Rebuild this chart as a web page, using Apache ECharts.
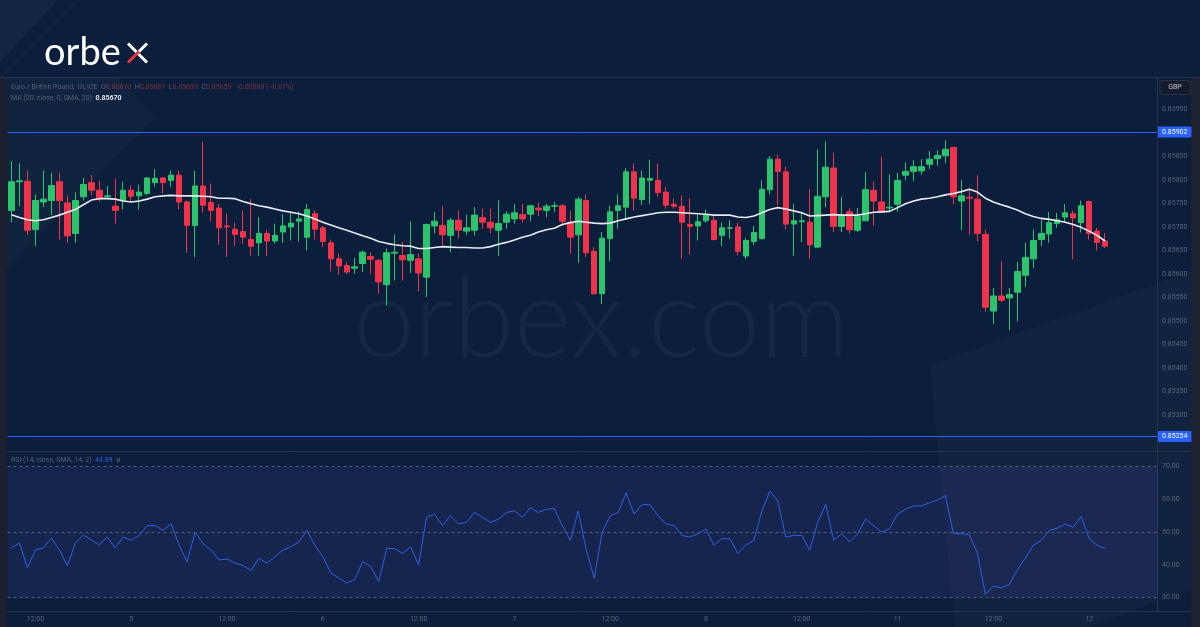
<!DOCTYPE html>
<html><head><meta charset="utf-8">
<script src="https://cdn.jsdelivr.net/npm/echarts@6/dist/echarts.min.js"></script>
<style>html,body{margin:0;padding:0;background:#0b1e3b;}#c{width:1200px;height:627px;}</style>
</head><body><div id="c"></div>
<script>
// ---- categories / ticks ----
const dayLabels = ['4','5','6','7','8','11','12'];
const firstHour = 9;
const slotCount = 144;
const priceTicks = [0.8530,0.8535,0.8540,0.8545,0.8550,0.8555,0.8560,0.8565,0.8570,0.8575,0.8580,0.8585,0.8595];
const rsiTicks = [30,40,50,60,70];
const levels = [0.85902, 0.85254];
const rsiLevels = [70,50,30];

// ---- OHLC (EUR/GBP 1h) ----
const opens = [
0.85735,0.85796,0.85797,0.85694,0.85753,0.85756,0.85796,0.85751,0.85686,0.85764,
0.85794,0.85778,0.85764,0.85744,0.85756,0.85778,0.85766,0.85771,0.85794,0.85804,
0.85799,0.85810,0.85753,0.85703,0.85787,0.85752,0.85740,0.85702,0.85695,0.85690,
0.85673,0.85666,0.85686,0.85670,0.85689,0.85700,0.85712,0.85678,0.85728,0.85698,
0.85666,0.85632,0.85618,0.85612,0.85622,0.85637,0.85629,0.85577,0.85644,0.85639,
0.85629,0.85632,0.85593,0.85702,0.85703,0.85682,0.85714,0.85691,0.85693,0.85720,
0.85710,0.85693,0.85710,0.85717,0.85726,0.85727,0.85740,0.85735,0.85744,0.85745,
0.85710,0.85683,0.85756,0.85648,0.85558,0.85675,0.85735,0.85742,0.85817,0.85758,
0.85799,0.85799,0.85774,0.85748,0.85744,0.85705,0.85702,0.85713,0.85714,0.85682,
0.85697,0.85700,0.85638,0.85669,0.85675,0.85779,0.85844,0.85817,0.85706,0.85711,
0.85710,0.85657,0.85764,0.85825,0.85701,0.85732,0.85693,0.85713,0.85778,0.85753,
0.85740,0.85748,0.85810,0.85818,0.85819,0.85833,0.85845,0.85851,0.85869,0.85755,
0.85763,0.85759,0.85684,0.85521,0.85553,0.85549,0.85561,0.85597,0.85632,0.85673,
0.85685,0.85707,0.85721,0.85728,0.85709,0.85754,0.85691,0.85670];
const closes = [
0.85796,0.85798,0.85693,0.85756,0.85759,0.85788,0.85756,0.85681,0.85756,0.85790,
0.85778,0.85760,0.85766,0.85735,0.85778,0.85765,0.85774,0.85804,0.85803,0.85794,
0.85810,0.85753,0.85703,0.85787,0.85746,0.85735,0.85698,0.85700,0.85684,0.85678,
0.85659,0.85686,0.85670,0.85682,0.85702,0.85708,0.85717,0.85737,0.85695,0.85669,
0.85632,0.85617,0.85604,0.85615,0.85646,0.85631,0.85583,0.85645,0.85646,0.85630,
0.85641,0.85602,0.85705,0.85712,0.85683,0.85714,0.85693,0.85698,0.85725,0.85710,
0.85698,0.85707,0.85727,0.85730,0.85717,0.85745,0.85736,0.85744,0.85745,0.85712,
0.85678,0.85759,0.85645,0.85558,0.85676,0.85732,0.85745,0.85817,0.85761,0.85804,
0.85803,0.85773,0.85746,0.85744,0.85710,0.85701,0.85711,0.85725,0.85673,0.85698,
0.85698,0.85648,0.85671,0.85688,0.85780,0.85844,0.85818,0.85706,0.85713,0.85713,
0.85662,0.85765,0.85827,0.85701,0.85725,0.85694,0.85722,0.85779,0.85755,0.85732,
0.85742,0.85799,0.85818,0.85828,0.85828,0.85844,0.85852,0.85865,0.85764,0.85766,
0.85761,0.85686,0.85529,0.85553,0.85544,0.85556,0.85605,0.85635,0.85671,0.85686,
0.85709,0.85715,0.85730,0.85719,0.85745,0.85686,0.85667,0.85659];
const lows = [
0.85710,0.85744,0.85683,0.85659,0.85742,0.85725,0.85673,0.85666,0.85666,0.85756,
0.85767,0.85754,0.85760,0.85707,0.85737,0.85754,0.85737,0.85767,0.85785,0.85771,
0.85785,0.85737,0.85645,0.85636,0.85730,0.85712,0.85662,0.85636,0.85659,0.85664,
0.85639,0.85639,0.85638,0.85664,0.85666,0.85671,0.85669,0.85650,0.85673,0.85657,
0.85605,0.85598,0.85600,0.85600,0.85604,0.85600,0.85558,0.85533,0.85586,0.85586,
0.85602,0.85563,0.85551,0.85686,0.85661,0.85646,0.85675,0.85683,0.85682,0.85696,
0.85686,0.85639,0.85696,0.85707,0.85709,0.85712,0.85723,0.85721,0.85732,0.85703,
0.85643,0.85624,0.85636,0.85556,0.85536,0.85627,0.85696,0.85717,0.85735,0.85747,
0.85749,0.85764,0.85739,0.85739,0.85632,0.85641,0.85671,0.85709,0.85671,0.85659,
0.85675,0.85639,0.85632,0.85661,0.85673,0.85769,0.85746,0.85695,0.85639,0.85668,
0.85632,0.85655,0.85742,0.85689,0.85689,0.85686,0.85689,0.85712,0.85702,0.85730,
0.85733,0.85732,0.85799,0.85797,0.85811,0.85823,0.85830,0.85835,0.85748,0.85693,
0.85683,0.85669,0.85520,0.85494,0.85540,0.85480,0.85499,0.85572,0.85612,0.85659,
0.85666,0.85698,0.85709,0.85631,0.85688,0.85673,0.85650,0.85655];
const highs = [
0.85840,0.85836,0.85820,0.85769,0.85820,0.85815,0.85815,0.85767,0.85773,0.85804,
0.85810,0.85799,0.85787,0.85803,0.85796,0.85788,0.85790,0.85806,0.85823,0.85806,
0.85820,0.85820,0.85756,0.85820,0.85881,0.85792,0.85749,0.85728,0.85709,0.85735,
0.85759,0.85721,0.85693,0.85707,0.85727,0.85730,0.85733,0.85749,0.85735,0.85702,
0.85673,0.85643,0.85625,0.85634,0.85650,0.85646,0.85632,0.85654,0.85684,0.85668,
0.85712,0.85643,0.85707,0.85732,0.85744,0.85719,0.85735,0.85726,0.85742,0.85739,
0.85739,0.85756,0.85733,0.85749,0.85749,0.85746,0.85752,0.85749,0.85753,0.85749,
0.85735,0.85764,0.85769,0.85657,0.85689,0.85745,0.85769,0.85825,0.85835,0.85820,
0.85843,0.85835,0.85785,0.85760,0.85767,0.85761,0.85726,0.85737,0.85723,0.85709,
0.85714,0.85709,0.85676,0.85702,0.85799,0.85851,0.85854,0.85828,0.85749,0.85732,
0.85780,0.85865,0.85882,0.85858,0.85764,0.85740,0.85740,0.85817,0.85796,0.85850,
0.85812,0.85815,0.85837,0.85842,0.85844,0.85861,0.85863,0.85884,0.85871,0.85799,
0.85783,0.85810,0.85694,0.85570,0.85627,0.85570,0.85625,0.85666,0.85695,0.85715,
0.85732,0.85730,0.85749,0.85735,0.85756,0.85756,0.85698,0.85687];

// ---- MA (20, close, SMA) ----
const ma20 = [
0.85726,0.85720,0.85715,0.85713,0.85715,0.85720,0.85725,0.85731,0.85737,0.85747,
0.85757,0.85760,0.85760,0.85759,0.85755,0.85753,0.85755,0.85759,0.85764,0.85766,
0.85767,0.85766,0.85766,0.85766,0.85765,0.85764,0.85761,0.85761,0.85760,0.85754,
0.85749,0.85745,0.85742,0.85738,0.85734,0.85731,0.85728,0.85723,0.85717,0.85710,
0.85704,0.85698,0.85693,0.85687,0.85681,0.85676,0.85669,0.85665,0.85662,0.85660,
0.85659,0.85654,0.85654,0.85656,0.85658,0.85657,0.85656,0.85656,0.85655,0.85655,
0.85658,0.85663,0.85667,0.85672,0.85678,0.85682,0.85689,0.85694,0.85697,0.85705,
0.85709,0.85712,0.85710,0.85708,0.85707,0.85708,0.85713,0.85717,0.85721,0.85724,
0.85727,0.85730,0.85731,0.85731,0.85730,0.85729,0.85728,0.85727,0.85725,0.85725,
0.85725,0.85721,0.85720,0.85723,0.85730,0.85737,0.85741,0.85738,0.85734,0.85730,
0.85723,0.85724,0.85725,0.85726,0.85725,0.85725,0.85725,0.85728,0.85731,0.85732,
0.85733,0.85741,0.85749,0.85755,0.85759,0.85761,0.85764,0.85768,0.85771,0.85775,
0.85780,0.85774,0.85761,0.85753,0.85747,0.85742,0.85736,0.85728,0.85722,0.85718,
0.85716,0.85713,0.85710,0.85705,0.85699,0.85691,0.85682,0.85670];

// ---- RSI (14) ----
const rsi14 = [
45.2,46.7,39.1,44.6,45.2,48.2,44.6,39.7,46.7,49.1,
47.6,46.1,48.5,45.2,48.5,47.5,49.0,52.0,52.0,50.5,
52.5,46.0,41.0,50.0,46.5,44.5,41.5,41.8,40.5,39.8,
38.3,42.0,40.5,42.5,44.5,45.5,47.0,50.5,46.0,42.5,
37.5,36.0,34.5,35.5,41.0,39.5,34.8,45.0,45.0,43.5,
45.5,40.0,54.5,55.5,52.0,55.0,52.5,53.0,56.0,54.5,
53.0,54.0,56.0,56.5,54.5,57.5,56.0,57.0,57.2,52.0,
47.5,56.5,44.5,36.0,50.0,55.0,56.0,62.0,55.5,58.5,
58.3,55.0,52.5,52.0,49.0,48.5,49.5,51.0,46.0,48.0,
48.0,43.5,46.0,47.5,56.5,62.5,59.5,48.5,49.0,49.0,
44.5,53.0,58.5,47.5,49.5,47.0,49.5,54.0,52.0,50.0,
51.0,55.5,57.0,58.0,58.0,59.0,59.8,61.2,49.5,49.5,
49.2,43.5,31.0,33.5,33.0,34.0,38.5,42.0,46.0,47.5,
50.5,51.2,52.5,51.5,54.8,48.0,46.0,44.89];

// ---- build ----
const categories = [];
for (let k = 0; k < slotCount; k++) {
  const t = firstHour + k;
  const h = t % 24;
  categories.push(dayLabels[Math.floor(t / 24)] + '|' + (h < 10 ? '0' : '') + h);
}
const candleData = opens.map((o, i) => [o, closes[i], lows[i], highs[i]]);
const last = opens.length - 1;
const chg = closes[last] - closes[last - 1];

const GREEN = '#2bc46d', RED = '#f0334a';
const AXIS_TXT = '#5b6678', LINE = '#28344a';
const FONT = 'Roboto';

const xLabelFmt = v => { const p = v.split('|'); return p[1] === '00' ? p[0] : (p[1] === '12' ? '12:00' : ''); };
const xLabelShow = (idx, v) => v.endsWith('|00') || v.endsWith('|12');

const chart = echarts.init(document.getElementById('c'), null, {renderer: 'canvas'});
chart.setOption({
  backgroundColor: '#0b1e3b',
  animation: false,
  textStyle: {fontFamily: FONT},
  grid: [
    {left: 7.5, right: 43, top: 78, height: 373},
    {left: 7.5, right: 43, top: 451, height: 160}
  ],
  xAxis: [
    {type: 'category', gridIndex: 0, data: categories, boundaryGap: true,
     axisLine: {show: true, lineStyle: {color: LINE}}, axisTick: {show: false},
     axisLabel: {show: false}, splitLine: {show: false}},
    {type: 'category', gridIndex: 1, data: categories, boundaryGap: true,
     axisLine: {show: true, lineStyle: {color: LINE}}, axisTick: {show: false},
     axisLabel: {show: true, color: AXIS_TXT, fontSize: 7, margin: 5, fontFamily: FONT,
                 interval: xLabelShow, formatter: xLabelFmt, hideOverlap: false},
     splitLine: {show: false}}
  ],
  yAxis: [
    {type: 'value', gridIndex: 0, position: 'right', min: 0.852234, max: 0.860166,
     axisLine: {show: true, lineStyle: {color: LINE}}, axisTick: {show: false},
     splitLine: {show: false},
     axisLabel: {color: AXIS_TXT, fontSize: 7, margin: 5, fontFamily: FONT,
                 customValues: priceTicks, formatter: v => v.toFixed(5)}},
    {type: 'value', gridIndex: 1, position: 'right', min: 25.9, max: 74.8,
     axisLine: {show: true, lineStyle: {color: LINE}}, axisTick: {show: false},
     splitLine: {show: false},
     axisLabel: {color: AXIS_TXT, fontSize: 7, margin: 5, fontFamily: FONT,
                 customValues: rsiTicks, formatter: v => v.toFixed(2)}}
  ],
  series: [
    {type: 'candlestick', xAxisIndex: 0, yAxisIndex: 0, data: candleData, barWidth: 6,
     itemStyle: {color: GREEN, color0: RED, borderColor: GREEN, borderColor0: RED, borderWidth: 1}},
    {type: 'line', xAxisIndex: 0, yAxisIndex: 0, data: ma20, showSymbol: false, symbol: 'none',
     lineStyle: {color: '#e9ebf2', width: 1.6}, z: 3,
     markLine: {silent: true, symbol: 'none', animation: false, precision: 5,
       lineStyle: {color: '#2962ff', width: 1, type: 'solid'},
       label: {show: true, position: 'end', distance: 1, formatter: p => Number(p.value).toFixed(5),
               color: '#ffffff', backgroundColor: '#2962ff', fontSize: 7, fontFamily: FONT,
               padding: [2, 4, 2, 4], borderRadius: 1},
       data: levels.map(v => ({yAxis: v}))}},
    {type: 'line', xAxisIndex: 1, yAxisIndex: 1, data: rsi14, showSymbol: false, symbol: 'none',
     lineStyle: {color: '#2f5fe6', width: 1}, z: 3,
     markArea: {silent: true, itemStyle: {color: 'rgba(110,90,220,0.12)'},
                data: [[{yAxis: 30}, {yAxis: 70}]]},
     markLine: {silent: true, symbol: 'none', animation: false,
                lineStyle: {color: '#55607a', width: 1, type: [3, 3]}, label: {show: false},
                data: rsiLevels.map(v => ({yAxis: v}))}}
  ],
  graphic: [
    // background decorations
    {type: 'polygon', z: -10, silent: true, shape: {points: [[0,0],[58,0],[0,62]]}, style: {fill: 'rgba(255,255,255,0.035)'}},
    {type: 'line', z: -10, silent: true, shape: {x1: 78, y1: 0, x2: 0, y2: 78}, style: {stroke: 'rgba(255,255,255,0.05)', lineWidth: 1}},
    {type: 'polygon', z: -10, silent: true, shape: {points: [[7,78],[118,78],[155,118],[7,268]]}, style: {fill: 'rgba(255,255,255,0.022)'}},
    {type: 'polygon', z: -10, silent: true, shape: {points: [[930,365],[1200,268],[1200,585],[1090,627],[955,627]]}, style: {fill: 'rgba(255,255,255,0.022)'}},
    // watermark
    {type: 'text', z: -5, silent: true, x: 601, y: 322,
     style: {text: 'orbex.com', fill: 'rgba(255,255,255,0.045)', font: '300 110px Lato', align: 'center', verticalAlign: 'middle'}},
    // frame
    {type: 'line', silent: true, shape: {x1: 0, y1: 77.5, x2: 1200, y2: 77.5}, style: {stroke: LINE, lineWidth: 1}},
    {type: 'line', silent: true, shape: {x1: 1157, y1: 451.5, x2: 1191, y2: 451.5}, style: {stroke: LINE, lineWidth: 1}},
    {type: 'line', silent: true, shape: {x1: 1157, y1: 611.5, x2: 1191, y2: 611.5}, style: {stroke: LINE, lineWidth: 1}},
    {type: 'rect', silent: true, shape: {x: 0, y: 78, width: 7, height: 549}, style: {fill: '#1c2030'}},
    {type: 'rect', silent: true, shape: {x: 1191, y: 78, width: 9, height: 549}, style: {fill: '#1e2230'}},
    // GBP box
    {type: 'rect', silent: true, shape: {x: 1160, y: 80.5, width: 30, height: 14, r: 2}, style: {fill: '#141b2b', stroke: '#2c3547', lineWidth: 1}},
    {type: 'text', silent: true, x: 1175, y: 87.5, style: {text: 'GBP', fill: '#c4c8d2', font: '7px Roboto', align: 'center', verticalAlign: 'middle'}},
    // logo
    {type: 'text', silent: true, x: 44, y: 53, style: {text: 'orbe', fill: '#ffffff', font: '38px Lato', verticalAlign: 'middle'}},
    {type: 'line', silent: true, shape: {x1: 128, y1: 43.5, x2: 147, y2: 62.5}, style: {stroke: '#ffffff', lineWidth: 3}},
    {type: 'line', silent: true, shape: {x1: 128, y1: 62.5, x2: 139, y2: 51.5}, style: {stroke: '#e8333f', lineWidth: 3}},
    {type: 'line', silent: true, shape: {x1: 139, y1: 51.5, x2: 147, y2: 43.5}, style: {stroke: '#ffffff', lineWidth: 3}},
    // legends
    {type: 'text', silent: true, x: 11, y: 87.5,
     style: {text: '{g|Euro / British Pound, 1h, ICE  O}{r|' + opens[last].toFixed(5) + '}{g|  H}{r|' + highs[last].toFixed(5) +
                   '}{g|  L}{r|' + lows[last].toFixed(5) + '}{g|  C}{r|' + closes[last].toFixed(5) + '}{r|  ' +
                   (chg < 0 ? '\u2212' : '+') + Math.abs(chg).toFixed(5) + ' (' + (chg < 0 ? '\u2212' : '+') +
                   Math.abs(chg / closes[last - 1] * 100).toFixed(2) + '%)}',
            verticalAlign: 'middle',
            rich: {g: {fill: '#566175', font: '7px Roboto'}, r: {fill: '#83303e', font: '7px Roboto'}}}},
    {type: 'text', silent: true, x: 11, y: 98,
     style: {text: '{g|MA (20, close, 0, SMA, 20)  }{w|' + ma20[last].toFixed(5) + '}', verticalAlign: 'middle',
            rich: {g: {fill: '#566175', font: '7px Roboto'}, w: {fill: '#e6e8ee', font: 'bold 7px Roboto'}}}},
    {type: 'text', silent: true, x: 11, y: 460.5,
     style: {text: '{g|RSI (14, close, SMA, 14, 2)  }{b|' + rsi14[last].toFixed(2) + '}{g|  \u00f8}', verticalAlign: 'middle',
            rich: {g: {fill: '#566175', font: '7px Roboto'}, b: {fill: '#2f5fe6', font: '7px Roboto'}}}}
  ]
});
</script>
</body></html>
